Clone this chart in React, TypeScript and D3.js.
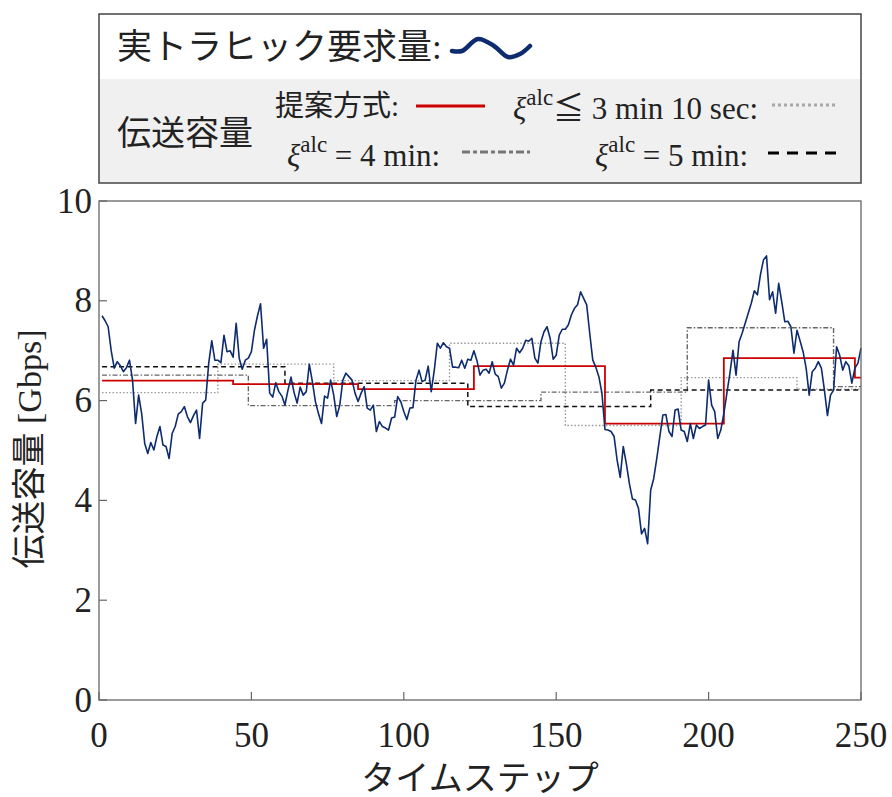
import React, { useEffect, useRef } from "react";
import * as d3 from "d3";

// Demanded traffic per time step (t = 1 .. 250), Gbps
const traffic: number[] = [
  7.70, 7.60, 7.48, 7.00, 6.65, 6.78, 6.70, 6.58, 6.66, 6.81,
  6.41, 5.54, 6.11, 5.74, 5.14, 4.94, 5.16, 5.01, 5.28, 5.48,
  5.11, 5.08, 4.84, 5.34, 5.48, 5.73, 5.78, 5.88, 5.68, 5.56,
  5.70, 5.81, 5.24, 5.95, 6.01, 6.75, 7.20, 6.81, 6.81, 6.76,
  7.31, 6.98, 7.00, 6.87, 7.55, 6.85, 6.63, 6.81, 6.85, 6.98,
  7.41, 7.70, 7.94, 7.05, 7.23, 6.15, 6.07, 6.36, 6.18, 6.09,
  5.91, 6.21, 6.47, 6.16, 5.95, 6.27, 6.11, 6.18, 6.73, 6.38,
  5.98, 5.74, 5.54, 6.09, 6.05, 6.41, 6.11, 5.68, 5.91, 6.41,
  6.55, 6.48, 6.41, 6.15, 5.98, 6.15, 6.28, 5.85, 5.81, 5.91,
  5.38, 5.58, 5.48, 5.45, 5.41, 5.65, 5.67, 6.08, 5.98, 5.78,
  5.62, 5.85, 5.86, 6.41, 6.61, 6.38, 6.41, 6.69, 6.18, 6.61,
  7.15, 7.05, 7.16, 7.08, 7.05, 6.67, 6.67, 6.66, 6.81, 6.65,
  6.83, 6.81, 7.00, 6.80, 6.51, 6.61, 6.63, 6.55, 6.78, 6.53,
  6.48, 6.25, 6.35, 6.61, 6.83, 6.71, 7.05, 6.96, 7.05, 7.21,
  7.19, 7.25, 6.85, 6.75, 7.18, 7.38, 7.48, 7.25, 6.83, 6.91,
  7.31, 7.43, 7.43, 7.52, 7.72, 7.85, 7.92, 8.18, 8.05, 7.92,
  7.35, 6.81, 6.67, 6.48, 6.15, 5.42, 5.41, 5.38, 5.28, 4.80,
  4.46, 5.08, 4.74, 4.34, 4.03, 4.01, 3.84, 3.33, 3.44, 3.13,
  4.21, 4.44, 4.84, 5.28, 5.71, 5.72, 5.38, 5.28, 5.81, 5.83,
  5.41, 5.38, 5.18, 5.54, 5.24, 5.51, 5.44, 5.48, 5.51, 6.41,
  5.91, 5.78, 5.24, 5.41, 5.74, 6.15, 6.55, 7.01, 6.51, 7.18,
  7.35, 7.55, 7.75, 7.95, 8.20, 8.12, 8.52, 8.82, 8.90, 8.02,
  8.18, 7.75, 8.35, 7.98, 7.58, 7.59, 7.48, 6.95, 7.41, 7.20,
  6.98, 6.65, 6.11, 6.58, 6.65, 6.78, 6.65, 6.21, 5.70, 6.11,
  6.21, 7.08, 6.91, 6.61, 6.78, 6.70, 6.35, 6.65, 6.75, 7.05,
];

// Allocated capacity: step start times and capacity held from each start
const proposedStart = [1, 44, 85, 123, 166, 205, 248];
const proposedCap = [6.40, 6.33, 6.23, 6.69, 5.54, 6.85, 6.46];

const alc190Start = [1, 39, 77, 115, 153, 191, 229];
const alc190Cap = [6.16, 6.73, 6.40, 7.15, 5.50, 6.46, 6.23];

const alc240Start = [1, 49, 97, 145, 193, 241];
const alc240Cap = [6.51, 5.90, 6.00, 6.17, 7.46, 6.28];

const alc300Start = [1, 61, 121, 181, 241];
const alc300Cap = [6.68, 6.35, 5.88, 6.21, 6.21];

const xTicks = [0, 50, 100, 150, 200, 250];
const yTicks = [0, 2, 4, 6, 8, 10];
const T_END = 250;

const W = 892;
const H = 797;
const M = { left: 99, right: 861, top: 201, bottom: 700 };

const SERIF = "'Liberation Serif', 'Times New Roman', 'Noto Sans CJK JP', serif";
const NUM = "'Liberation Serif', 'Times New Roman', serif";
const NAVY = "#0d2b6e";
const RED = "#cc0000";

export default function App() {
  const ref = useRef<SVGSVGElement>(null);

  useEffect(() => {
    document.body.style.margin = "0";
    const svg = d3.select(ref.current!);
    svg.selectAll("*").remove();

    const x = d3.scaleLinear().domain([0, 250]).range([M.left, M.right]);
    const y = d3.scaleLinear().domain([0, 10]).range([M.bottom, M.top]);

    // ---- legend box ----
    const lg = svg.append("g");
    lg.append("rect").attr("x", 99).attr("y", 79).attr("width", 762).attr("height", 104).attr("fill", "#f0f0f0");
    lg.append("rect").attr("x", 99).attr("y", 14).attr("width", 762).attr("height", 169)
      .attr("fill", "none").attr("stroke", "#444").attr("stroke-width", 1.5);

    lg.append("text").attr("x", 117).attr("y", 47).attr("dominant-baseline", "central")
      .attr("font-family", SERIF).attr("font-size", 35).attr("fill", "#222")
      .text("実トラヒック要求量:");

    const wavePts: [number, number][] = [[452, 51], [462, 51], [478, 39], [494, 46], [508, 57], [520, 54], [530, 46]];
    lg.append("path").attr("d", d3.line().curve(d3.curveCatmullRom)(wavePts)!)
      .attr("fill", "none").attr("stroke", NAVY).attr("stroke-width", 4.5).attr("stroke-linecap", "round");

    lg.append("text").attr("x", 117).attr("y", 133).attr("dominant-baseline", "central")
      .attr("font-family", SERIF).attr("font-size", 34).attr("fill", "#222").text("伝送容量");

    lg.append("text").attr("x", 275).attr("y", 106).attr("dominant-baseline", "central")
      .attr("font-family", SERIF).attr("font-size", 29).attr("fill", "#222").text("提案方式:");

    const xiLabel = (x0: number, y0: number, rest: string) => {
      const t = lg.append("text").attr("x", x0).attr("y", y0).attr("dominant-baseline", "central")
        .attr("font-family", SERIF).attr("font-size", 31).attr("fill", "#222");
      t.append("tspan").attr("font-style", "italic").text("ξ");
      t.append("tspan").attr("dy", -11).attr("font-size", 23).text("alc");
      t.append("tspan").attr("dy", 11).text(rest);
    };
    xiLabel(513, 108, "≦ 3 min 10 sec:");
    xiLabel(287, 155, " = 4 min:");
    xiLabel(595, 155, " = 5 min:");

    const legLine = (x1: number, x2: number, yy: number, stroke: string, dash: string | null, sw: number) => {
      const l = lg.append("line").attr("x1", x1).attr("x2", x2).attr("y1", yy).attr("y2", yy)
        .attr("stroke", stroke).attr("stroke-width", sw);
      if (dash) l.attr("stroke-dasharray", dash);
    };
    legLine(416, 485, 106, RED, null, 3);
    legLine(772, 838, 105, "#a8a8a8", "3,3", 3);
    legLine(462, 530, 152, "#777", "8,3,4,3", 3.2);
    legLine(768, 838, 153, "#000", "11,8", 3.2);

    // ---- plot frame ----
    const g = svg.append("g");
    g.append("rect").attr("x", M.left).attr("y", M.top).attr("width", M.right - M.left)
      .attr("height", M.bottom - M.top).attr("fill", "#fff");

    const stepLine = (starts: number[], caps: number[], stroke: string, dash: string | null, sw: number) => {
      const pts: [number, number][] = starts.map((s, i) => [s, caps[i]]);
      pts.push([T_END, caps[caps.length - 1]]);
      const line = d3.line<[number, number]>().x(d => x(d[0])).y(d => y(d[1])).curve(d3.curveStepAfter);
      const p = g.append("path").attr("d", line(pts)!).attr("fill", "none")
        .attr("stroke", stroke).attr("stroke-width", sw);
      if (dash) p.attr("stroke-dasharray", dash);
    };
    stepLine(alc190Start, alc190Cap, "#999", "1.5,2", 1.4);
    stepLine(alc240Start, alc240Cap, "#666", "5,2,1.5,2", 1.4);
    stepLine(alc300Start, alc300Cap, "#111", "5,3.5", 1.5);
    stepLine(proposedStart, proposedCap, RED, null, 1.8);

    const tl = d3.line<number>().x((_, i) => x(i + 1)).y(d => y(d));
    g.append("path").attr("d", tl(traffic)!).attr("fill", "none")
      .attr("stroke", NAVY).attr("stroke-width", 1.6).attr("stroke-linejoin", "round");

    // frame and ticks
    g.append("rect").attr("x", M.left).attr("y", M.top).attr("width", M.right - M.left)
      .attr("height", M.bottom - M.top).attr("fill", "none").attr("stroke", "#666").attr("stroke-width", 1.3);

    yTicks.forEach(v => {
      g.append("line").attr("x1", M.left).attr("x2", M.left + 8).attr("y1", y(v)).attr("y2", y(v))
        .attr("stroke", "#666").attr("stroke-width", 1.2);
      g.append("text").attr("x", 92).attr("y", y(v)).attr("text-anchor", "end")
        .attr("dominant-baseline", "central").attr("font-family", NUM).attr("font-size", 35)
        .attr("fill", "#222").text(String(v));
    });
    xTicks.forEach(v => {
      g.append("line").attr("x1", x(v)).attr("x2", x(v)).attr("y1", M.bottom).attr("y2", M.bottom - 8)
        .attr("stroke", "#666").attr("stroke-width", 1.2);
      g.append("text").attr("x", x(v)).attr("y", 735).attr("text-anchor", "middle")
        .attr("dominant-baseline", "central").attr("font-family", NUM).attr("font-size", 35)
        .attr("fill", "#222").text(String(v));
    });

    svg.append("text").attr("x", 480).attr("y", 778).attr("text-anchor", "middle")
      .attr("dominant-baseline", "central").attr("font-family", SERIF).attr("font-size", 34)
      .attr("fill", "#222").text("タイムステップ");

    svg.append("text").attr("transform", "translate(29,449) rotate(-90)").attr("text-anchor", "middle")
      .attr("dominant-baseline", "central").attr("font-family", SERIF).attr("font-size", 34)
      .attr("fill", "#222").text("伝送容量 [Gbps]");
  }, []);

  return <svg ref={ref} width={W} height={H} style={{ display: "block" }} />;
}
